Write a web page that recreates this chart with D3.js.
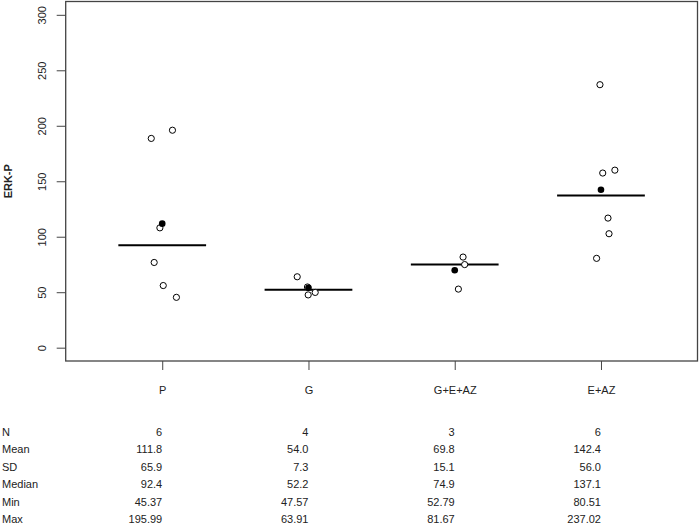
<!DOCTYPE html>
<html>
<head>
<meta charset="utf-8">
<script src="https://cdn.jsdelivr.net/npm/d3@7"></script>
<style>
  html, body { margin: 0; padding: 0; background: #fff; }
  svg { display: block; font-family: "Liberation Sans", Arial, sans-serif; }
</style>
</head>
<body>
<svg id="chart" width="700" height="524"></svg>
<script>
// ---- data ----
const categories = ["P", "G", "G+E+AZ", "E+AZ"];
const valuesP     = [195.99, 188.6, 108.0, 76.8, 56.0, 45.37];
const valuesG     = [63.91, 54.7, 49.8, 47.57];
const valuesGEAZ  = [81.67, 74.9, 52.79];
const valuesEAZ   = [237.02, 160.0, 157.4, 116.8, 102.7, 80.51];
// horizontal jitter of each point (in category units)
const jitterP    = [0.07, -0.075, -0.016, -0.055, 0.007, 0.097];
const jitterG    = [-0.077, -0.007, 0.046, -0.002];
const jitterGEAZ = [0.057, 0.068, 0.025];
const jitterEAZ  = [-0.007, 0.095, 0.012, 0.048, 0.055, -0.03];
const means   = [111.8, 54.0, 69.8, 142.4];
const medians = [92.4, 52.2, 74.9, 137.1];
const yTicks = [0, 50, 100, 150, 200, 250, 300];
const statRows = ["N", "Mean", "SD", "Median", "Min", "Max"];
const statN      = ["6", "4", "3", "6"];
const statMean   = ["111.8", "54.0", "69.8", "142.4"];
const statSD     = ["65.9", "7.3", "15.1", "56.0"];
const statMedian = ["92.4", "52.2", "74.9", "137.1"];
const statMin    = ["45.37", "47.57", "52.79", "80.51"];
const statMax    = ["195.99", "63.91", "81.67", "237.02"];
const yLabel = "ERK-P";

const groups = [valuesP, valuesG, valuesGEAZ, valuesEAZ];
const jitters = [jitterP, jitterG, jitterGEAZ, jitterEAZ];
const statTable = [statN, statMean, statSD, statMedian, statMin, statMax];

// ---- layout ----
const svg = d3.select("#chart");
const mLeft = 65.7, mRight = 697.5, mTop = 1.5, mBottom = 361;

const x = d3.scaleLinear().domain([0.34, 4.66]).range([mLeft, mRight]);
const y = d3.scaleLinear().domain([-12, 312]).range([mBottom, mTop]);

const txt = "#222";

// box
svg.append("rect")
  .attr("x", mLeft).attr("y", mTop)
  .attr("width", mRight - mLeft).attr("height", mBottom - mTop)
  .attr("fill", "none").attr("stroke", "#444").attr("stroke-width", 1.3);

// y axis
const yAxis = d3.axisLeft(y).tickValues(yTicks).tickSize(9).tickSizeOuter(0).tickFormat(d3.format("d"));
const gy = svg.append("g").attr("transform", `translate(${mLeft},0)`).call(yAxis);
gy.select(".domain").remove();
gy.selectAll(".tick line").attr("stroke", "#444").attr("stroke-width", 1);
gy.selectAll(".tick text")
  .attr("fill", txt).attr("font-size", 11)
  .attr("transform", "rotate(-90)")
  .attr("x", 0)
  .attr("y", -24)
  .attr("dy", "0.35em")
  .attr("text-anchor", "middle");

// x axis
const xAxis = d3.axisBottom(x).tickValues([1, 2, 3, 4]).tickSize(9).tickSizeOuter(0)
  .tickFormat((d) => categories[d - 1]);
const gx = svg.append("g").attr("transform", `translate(0,${mBottom})`).call(xAxis);
gx.select(".domain").remove();
gx.selectAll(".tick line").attr("stroke", "#444").attr("stroke-width", 1);
gx.selectAll(".tick text").attr("fill", txt).attr("font-size", 11).attr("y", 25);

// y label
svg.append("text")
  .attr("transform", `translate(8,${y(150)}) rotate(-90)`)
  .attr("text-anchor", "middle")
  .attr("font-size", 11).attr("font-weight", "bold").attr("fill", txt)
  .attr("dy", "0.35em")
  .text(yLabel);

// median lines
svg.append("g").selectAll("line")
  .data(medians)
  .join("line")
  .attr("x1", (d, i) => x(i + 1 - 0.3))
  .attr("x2", (d, i) => x(i + 1 + 0.3))
  .attr("y1", d => y(d)).attr("y2", d => y(d))
  .attr("stroke", "#000").attr("stroke-width", 2);

// points
const pts = [];
groups.forEach((g, gi) => g.forEach((v, k) => pts.push({ gi, v, j: jitters[gi][k] })));
svg.append("g").selectAll("circle")
  .data(pts)
  .join("circle")
  .attr("cx", d => x(d.gi + 1 + d.j))
  .attr("cy", d => y(d.v))
  .attr("r", 3.1)
  .attr("fill", "#fff").attr("stroke", "#000").attr("stroke-width", 1);

// means
svg.append("g").selectAll("circle")
  .data(means)
  .join("circle")
  .attr("cx", (d, i) => x(i + 1))
  .attr("cy", d => y(d))
  .attr("r", 3.3)
  .attr("fill", "#000");

// stats table
const rowY = d3.scaleLinear().domain([0, 5]).range([436, 523]);
const tbl = svg.append("g").attr("font-size", 11).attr("fill", txt);
tbl.selectAll("text.rl")
  .data(statRows)
  .join("text").attr("class", "rl")
  .attr("x", 2).attr("y", (d, i) => rowY(i))
  .text(d => d);
statTable.forEach((row, ri) => {
  tbl.selectAll(null)
    .data(row)
    .join("text")
    .attr("x", (d, ci) => x(ci + 1))
    .attr("y", rowY(ri))
    .attr("text-anchor", "end")
    .text(d => d);
});
</script>
</body>
</html>
